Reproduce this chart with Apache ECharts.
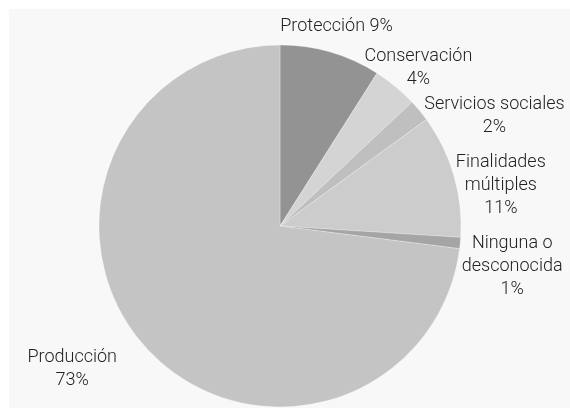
<!DOCTYPE html>
<html>
<head>
<meta charset="utf-8">
<style>
  html, body { margin: 0; padding: 0; background: #ffffff; }
  #chart { width: 570px; height: 408px; }
</style>
<script src="https://cdn.jsdelivr.net/npm/echarts@6/dist/echarts.min.js"></script>
</head>
<body>
<div id="chart"></div>
<script>
// Share of area by primary designated purpose (%)
const categories = ['Protección', 'Conservación', 'Servicios sociales', 'Finalidades\nmúltiples', 'Ninguna o\ndesconocida', 'Producción'];
const shares = [9, 4, 2, 11, 1, 73];
const labelJoin = [' ', '\n', '\n', '\n', '\n', '\n'];

// Slice fills, same order as the categories
const sliceColors = ['#939393', '#d4d4d4', '#bfbfbf', '#cccccc', '#a5a5a5', '#c4c4c4'];

// Pie geometry and label nudges (pixels, from the rim point at each slice's middle)
const pieCenter = [280, 226];
const pieRadius = 181;
const labelNudge = [[6, -26], [23, -19], [75, 5], [47, 10], [52, 23], [-72, 23]];

const total = shares.reduce((a, b) => a + b, 0);
const midAngles = [];
let acc = 0;
shares.forEach(v => {
  midAngles.push((acc + v / 2) / total * 2 * Math.PI);
  acc += v;
});

const chart = echarts.init(document.getElementById('chart'), null, { renderer: 'canvas' });

chart.setOption({
  backgroundColor: '#ffffff',
  animation: false,
  graphic: [{
    type: 'rect',
    z: -10,
    silent: true,
    shape: { x: 9, y: 9, width: 561, height: 399 },
    style: { fill: '#f8f8f8' }
  }],
  series: [{
    type: 'pie',
    center: pieCenter,
    radius: pieRadius,
    startAngle: 90,
    clockwise: true,
    avoidLabelOverlap: false,
    data: categories.map((name, i) => ({
      name: name,
      value: shares[i],
      itemStyle: { color: sliceColors[i] }
    })),
    itemStyle: { borderColor: 'rgba(255,255,255,0.45)', borderWidth: 0.6 },
    emphasis: { disabled: true },
    label: {
      show: true,
      position: 'outside',
      formatter: p => p.name + labelJoin[p.dataIndex] + p.value + '%',
      fontFamily: 'Roboto',
      fontWeight: 300,
      fontSize: 18,
      lineHeight: 23,
      color: '#222222'
    },
    labelLine: { show: false },
    labelLayout: params => {
      const i = params.dataIndex;
      const a = midAngles[i];
      return {
        x: pieCenter[0] + pieRadius * Math.sin(a) + labelNudge[i][0],
        y: pieCenter[1] - pieRadius * Math.cos(a) + labelNudge[i][1],
        align: 'center',
        verticalAlign: 'middle'
      };
    }
  }]
});
</script>
</body>
</html>
